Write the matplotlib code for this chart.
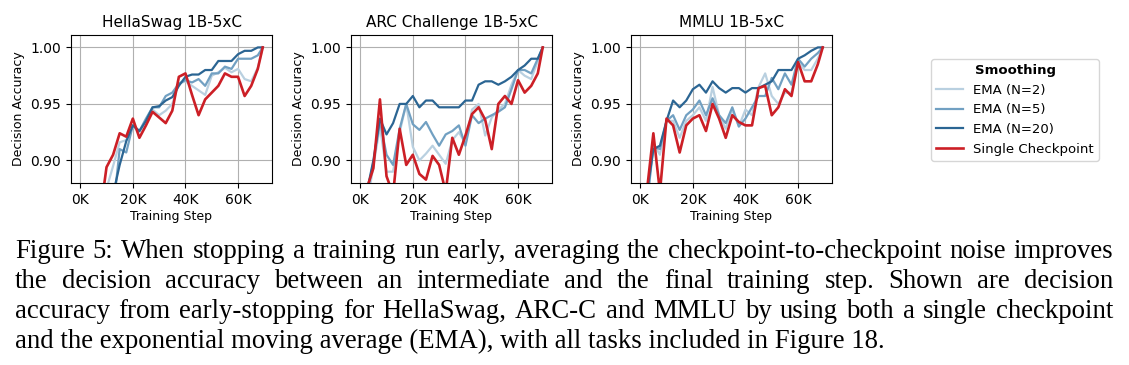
import numpy as np
import matplotlib
matplotlib.use("Agg")
import matplotlib.pyplot as plt

# training steps (checkpoints every 2.5K, final step 69369)
steps = [0, 2500, 5000, 7500, 10000, 12500, 15000, 17500, 20000, 22500, 25000,
         27500, 30000, 32500, 35000, 37500, 40000, 42500, 45000, 47500, 50000,
         52500, 55000, 57500, 60000, 62500, 65000, 67500, 69369]

titles = ["HellaSwag 1B-5xC", "ARC Challenge 1B-5xC", "MMLU 1B-5xC"]
series_labels = ["EMA (N=2)", "EMA (N=5)", "EMA (N=20)", "Single Checkpoint"]
xtick_vals = [0, 20000, 40000, 60000]
xtick_labels = ["0K", "20K", "40K", "60K"]
ytick_vals = [0.90, 0.95, 1.00]

hs_ema2 = [0.64, 0.69, 0.74, 0.79, 0.875, 0.895, 0.916, 0.918, 0.930, 0.925, 0.935, 0.945, 0.940, 0.944, 0.950,
           0.968, 0.970, 0.966, 0.962, 0.958, 0.975, 0.978, 0.982, 0.978, 0.981, 0.972, 0.970, 0.982, 1.0]
hs_ema5 = [0.62, 0.67, 0.72, 0.77, 0.82, 0.855, 0.910, 0.907, 0.931, 0.926, 0.937, 0.947, 0.947, 0.957, 0.960,
           0.968, 0.971, 0.969, 0.972, 0.966, 0.977, 0.977, 0.983, 0.981, 0.990, 0.990, 0.990, 0.993, 1.0]
hs_ema20 = [0.60, 0.65, 0.70, 0.75, 0.80, 0.870, 0.896, 0.917, 0.931, 0.926, 0.935, 0.947, 0.948, 0.953, 0.956,
            0.966, 0.974, 0.976, 0.976, 0.980, 0.980, 0.988, 0.988, 0.988, 0.994, 0.997, 0.997, 1.0, 1.0]
hs_single = [0.70, 0.76, 0.80, 0.851, 0.894, 0.905, 0.924, 0.921, 0.937, 0.920, 0.931, 0.943, 0.938, 0.933, 0.944,
             0.974, 0.977, 0.958, 0.940, 0.954, 0.960, 0.966, 0.977, 0.974, 0.974, 0.957, 0.966, 0.981, 1.0]

arc_ema2 = [0.81, 0.86, 0.895, 0.930, 0.890, 0.890, 0.925, 0.950, 0.912, 0.900, 0.906, 0.913, 0.905, 0.897, 0.918,
            0.925, 0.915, 0.945, 0.950, 0.922, 0.938, 0.945, 0.950, 0.967, 0.980, 0.975, 0.972, 0.988, 1.0]
arc_ema5 = [0.82, 0.87, 0.898, 0.935, 0.905, 0.896, 0.928, 0.950, 0.932, 0.927, 0.934, 0.923, 0.913, 0.923, 0.926,
            0.931, 0.913, 0.940, 0.933, 0.937, 0.940, 0.943, 0.947, 0.963, 0.980, 0.980, 0.977, 0.990, 1.0]
arc_ema20 = [0.84, 0.872, 0.900, 0.937, 0.923, 0.933, 0.950, 0.950, 0.957, 0.947, 0.953, 0.953, 0.947, 0.947, 0.947,
             0.947, 0.953, 0.953, 0.967, 0.970, 0.970, 0.967, 0.970, 0.974, 0.980, 0.984, 0.990, 0.990, 1.0]
arc_single = [0.80, 0.875, 0.893, 0.954, 0.886, 0.870, 0.928, 0.896, 0.905, 0.888, 0.883, 0.904, 0.896, 0.872, 0.920,
              0.905, 0.922, 0.941, 0.947, 0.936, 0.910, 0.950, 0.957, 0.950, 0.971, 0.960, 0.966, 0.977, 1.0]

mmlu_ema2 = [0.79, 0.86, 0.915, 0.905, 0.935, 0.935, 0.920, 0.935, 0.940, 0.947, 0.935, 0.965, 0.940, 0.928, 0.945,
             0.930, 0.945, 0.940, 0.965, 0.977, 0.957, 0.950, 0.960, 0.960, 0.987, 0.980, 0.980, 0.990, 1.0]
mmlu_ema5 = [0.80, 0.86, 0.912, 0.910, 0.935, 0.940, 0.927, 0.940, 0.945, 0.953, 0.940, 0.955, 0.940, 0.933, 0.947,
             0.930, 0.937, 0.947, 0.957, 0.957, 0.973, 0.963, 0.977, 0.967, 0.990, 0.983, 0.990, 0.995, 1.0]
mmlu_ema20 = [0.80, 0.87, 0.910, 0.913, 0.935, 0.953, 0.947, 0.953, 0.963, 0.967, 0.960, 0.970, 0.964, 0.960, 0.964,
              0.964, 0.960, 0.964, 0.964, 0.967, 0.970, 0.980, 0.980, 0.980, 0.990, 0.993, 0.997, 1.0, 1.0]
mmlu_single = [0.70, 0.872, 0.924, 0.872, 0.937, 0.931, 0.907, 0.931, 0.937, 0.940, 0.926, 0.950, 0.937, 0.920, 0.940,
               0.934, 0.931, 0.931, 0.964, 0.966, 0.940, 0.947, 0.963, 0.957, 0.987, 0.970, 0.970, 0.985, 1.0]

panels = [
    [hs_ema2, hs_ema5, hs_ema20, hs_single],
    [arc_ema2, arc_ema5, arc_ema20, arc_single],
    [mmlu_ema2, mmlu_ema5, mmlu_ema20, mmlu_single],
]

colors = ['#b9d0e0', '#71a0c2', '#2b6593', '#cc1f26']
widths = [1.6, 1.6, 1.6, 1.9]

caption_lines = [
    "Figure 5: When stopping a training run early, averaging the checkpoint-to-checkpoint noise improves",
    "the decision accuracy between an intermediate and the final training step.  Shown are decision",
    "accuracy from early-stopping for HellaSwag, ARC-C and MMLU by using both a single checkpoint",
    "and the exponential moving average (EMA), with all tasks included in Figure 18.",
]

W, H = 1129, 365
fig = plt.figure(figsize=(W / 100, H / 100), dpi=100)

lefts = [71, 351, 631]
for i, left in enumerate(lefts):
    ax = fig.add_axes([left / W, 1 - 183 / H, 201 / W, 148 / H])
    for vals, c, lw, lab in zip(panels[i], colors, widths, series_labels):
        ax.plot(steps, vals, color=c, lw=lw, label=lab)
    ax.set_ylim(0.88, 1.011)
    ax.set_xlim(-3500, 72900)
    ax.set_xticks(xtick_vals)
    ax.set_xticklabels(xtick_labels)
    ax.set_yticks(ytick_vals)
    ax.set_yticklabels(["%.2f" % v for v in ytick_vals])
    ax.tick_params(labelsize=10)
    ax.grid(True, color='#b0b0b0', lw=0.8)
    ax.set_axisbelow(True)
    ax.set_title(titles[i], fontsize=11)
    ax.set_xlabel("Training Step", fontsize=9, labelpad=2)
    ax.set_ylabel("Decision Accuracy", fontsize=9)
    if i == 0:
        handles, labels = ax.get_legend_handles_labels()

leg = fig.legend(handles, labels, loc='upper left', bbox_to_anchor=(931 / W, 1 - 59 / H),
                 borderaxespad=0, fontsize=9.5, title="Smoothing",
                 title_fontproperties={'weight': 'bold', 'size': 9.5})

# caption, justified like the paper
renderer = fig.canvas.get_renderer()
x0, x1 = 15, 1113
baselines = [258, 288, 318, 348]
cap_font = dict(family='Liberation Serif', fontsize=19.3, va='baseline')
for j, line in enumerate(caption_lines):
    y = 1 - baselines[j] / H
    if j == len(caption_lines) - 1:
        fig.text(x0 / W, y, line, ha='left', **cap_font)
        continue
    words = line.split()
    txts = [fig.text(0, y, w, ha='left', **cap_font) for w in words]
    ws = [t.get_window_extent(renderer).width for t in txts]
    gap = (x1 - x0 - sum(ws)) / (len(words) - 1)
    x = x0
    for t, w in zip(txts, ws):
        t.set_x(x / W)
        x += w + gap

fig.savefig("out.png", dpi=100)
